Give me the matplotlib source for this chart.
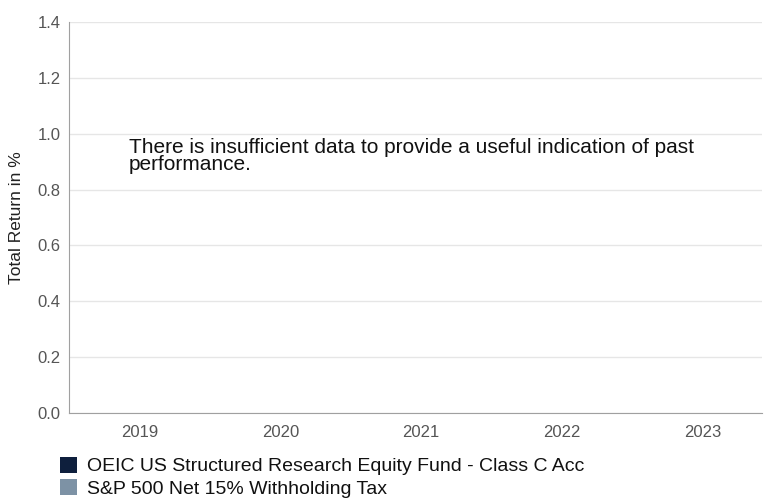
import matplotlib.pyplot as plt
from matplotlib.patches import Patch

plt.rcParams['font.family'] = ['Liberation Sans', 'DejaVu Sans']

years = ["2019", "2020", "2021", "2022", "2023"]
y_ticks = [0.0, 0.2, 0.4, 0.6, 0.8, 1.0, 1.2, 1.4]
series_names = [
    "OEIC US Structured Research Equity Fund - Class C Acc",
    "S&P 500 Net 15% Withholding Tax",
]
series_colors = ["#0e1f3d", "#7d92a5"]
message = ("There is insufficient data to provide a useful indication of past\n"
           "performance.")

fig = plt.figure(figsize=(7.69, 5.01), dpi=100)
ax = fig.add_axes([69 / 769, 1 - 413 / 501, (762 - 69) / 769, (413 - 22) / 501])

ax.set_xlim(-0.5, 4.42)
ax.set_ylim(0, 1.4)
ax.set_xticks(range(len(years)))
ax.set_xticklabels(years)
ax.set_yticks(y_ticks)
ax.set_yticklabels([f"{v:.1f}" for v in y_ticks])
ax.tick_params(axis="both", length=0, labelsize=12, colors="#555555")
ax.tick_params(axis="x", pad=8.5)
ax.tick_params(axis="y", pad=6)

ax.grid(axis="y", color="#e6e6e6", linewidth=1)
ax.set_axisbelow(True)
for side in ["top", "right"]:
    ax.spines[side].set_visible(False)
ax.spines["left"].set_color("#a0a0a0")
ax.spines["bottom"].set_color("#a0a0a0")

ax.set_ylabel("Total Return in %", fontsize=12.5, color="#222222", labelpad=10)

fig.text(129 / 769, 1 - 138 / 501, message, fontsize=15, color="#111111",
         va="top", ha="left", linespacing=0.88)

handles = [Patch(facecolor=c, edgecolor="none") for c in series_colors]
fig.legend(handles, series_names, loc="upper left",
           bbox_to_anchor=(42 / 769, 1 - 439 / 501), frameon=False,
           fontsize=14, handlelength=0.9, handleheight=0.9,
           handletextpad=0.5, labelspacing=0.2, labelcolor="#111111")

fig.savefig("out.png", dpi=100)
